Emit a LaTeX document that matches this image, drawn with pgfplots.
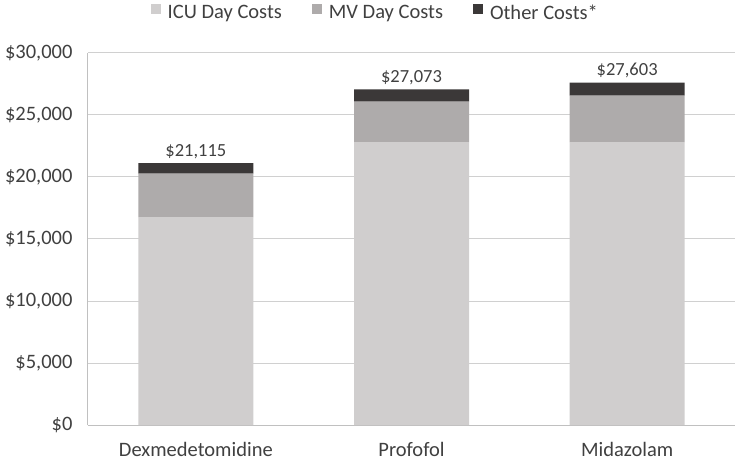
\documentclass[border=0pt]{standalone}
\usepackage{pgfplots}
\pgfplotsset{compat=1.18}
\usepackage{fontspec}
\setmainfont{Carlito}
\definecolor{icu}{HTML}{D0CECE}
\definecolor{mv}{HTML}{AEABAB}
\definecolor{oth}{HTML}{3B3838}
\definecolor{txt}{HTML}{404040}
\definecolor{gridc}{HTML}{D0D0D0}
\definecolor{axc}{HTML}{C0C0C0}
\begin{document}
\begin{tikzpicture}
\begin{axis}[
  scale only axis,
  width=647bp, height=372bp,
  ybar stacked,
  bar width=115bp,
  xmin=-0.5, xmax=2.5,
  ymin=0, ymax=30000,
  xtick={0,1,2},
  xticklabels={Dexmedetomidine,Profofol,Midazolam},
  ytick={0,5000,...,30000},
  /pgf/number format/assume math mode=true,
  /pgf/number format/fixed,
  /pgf/number format/1000 sep={,},
  yticklabel={\$\pgfmathprintnumber{\tick}},
  scaled y ticks=false,
  ymajorgrids,
  xmajorgrids=false,
  grid style={draw=gridc, line width=1bp},
  axis line style={draw=none},
  major tick length=0pt,
  tick style={draw=none},
  every tick label/.append style={font=\fontsize{20.5bp}{24bp}\selectfont, text=txt},
  yticklabel style={xshift=-12bp},
  xticklabel style={yshift=-14bp},
  legend style={at={(0.444,1.0)}, anchor=south, yshift=28bp, draw=none, fill=none,
     legend columns=-1, font=\fontsize{20.5bp}{24bp}\selectfont, text=txt,
     /tikz/every odd column/.append style={column sep=5bp},
     /tikz/every even column/.append style={column sep=28bp}},
  legend image code/.code={\fill[#1] (0bp,-1bp) rectangle (10bp,9bp);},
  clip=false,
]
\addplot[fill=icu, draw=none] coordinates {(0,16770) (1,22820) (2,22820)};
\addplot[fill=mv, draw=none] coordinates {(0,3500) (1,3260) (2,3740)};
\addplot[fill=oth, draw=none] coordinates {(0,845) (1,993) (2,1043)};
\legend{ICU Day Costs, MV Day Costs, Other Costs*}
\draw[color=axc, line width=1bp] (rel axis cs:0,0) -- (rel axis cs:1,0);
\draw[color=axc, line width=1bp] (rel axis cs:0,0) -- (rel axis cs:0,1);
\end{axis}
\begin{axis}[
  scale only axis,
  width=647bp, height=372bp,
  xmin=-0.5, xmax=2.5,
  ymin=0, ymax=30000,
  hide axis,
  clip=false,
]
\addplot[draw=none, mark=none,
  point meta=y,
  nodes near coords={\$\pgfmathprintnumber[fixed,1000 sep={,},assume math mode=true]{\pgfplotspointmeta}},
  every node near coord/.append style={font=\fontsize{18.5bp}{22bp}\selectfont, text=txt, inner sep=0pt, anchor=base, yshift=7bp},
] coordinates {(0,21115) (1,27073) (2,27603)};
\end{axis}
\pgfresetboundingbox
\useasboundingbox ([shift={(-88bp,-37bp)}]current axis.south west) rectangle ([shift={(0bp,53bp)}]current axis.north east);
\end{tikzpicture}
\end{document}
